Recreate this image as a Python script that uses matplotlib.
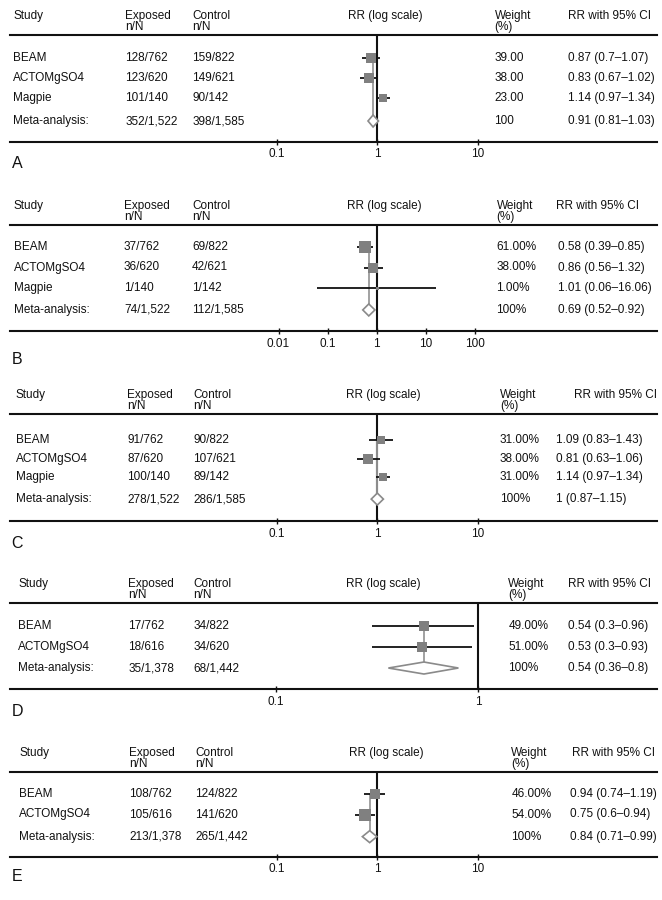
import numpy as np
import matplotlib
matplotlib.use("Agg")
import matplotlib.pyplot as plt
from matplotlib.transforms import blended_transform_factory
from matplotlib.patches import Polygon
from matplotlib.ticker import NullLocator

plt.rcParams['font.family'] = ['Liberation Sans', 'DejaVu Sans']

# ---------------- data ----------------
# Panel A
studies_A = ['BEAM', 'ACTOMgSO4', 'Magpie']
exposed_A = ['128/762', '123/620', '101/140']
control_A = ['159/822', '149/621', '90/142']
rr_A = [0.87, 0.83, 1.14]
lo_A = [0.70, 0.67, 0.97]
hi_A = [1.07, 1.02, 1.34]
weight_A = [39.00, 38.00, 23.00]
meta_A = ['352/1,522', '398/1,585']
meta_rr_A = [0.91, 0.81, 1.03]

# Panel B
studies_B = ['BEAM', 'ACTOMgSO4', 'Magpie']
exposed_B = ['37/762', '36/620', '1/140']
control_B = ['69/822', '42/621', '1/142']
rr_B = [0.58, 0.86, 1.01]
lo_B = [0.39, 0.56, 0.06]
hi_B = [0.85, 1.32, 16.06]
weight_B = [61.00, 38.00, 1.00]
meta_B = ['74/1,522', '112/1,585']
meta_rr_B = [0.69, 0.52, 0.92]

# Panel C
studies_C = ['BEAM', 'ACTOMgSO4', 'Magpie']
exposed_C = ['91/762', '87/620', '100/140']
control_C = ['90/822', '107/621', '89/142']
rr_C = [1.09, 0.81, 1.14]
lo_C = [0.83, 0.63, 0.97]
hi_C = [1.43, 1.06, 1.34]
weight_C = [31.00, 38.00, 31.00]
meta_C = ['278/1,522', '286/1,585']
meta_rr_C = [1, 0.87, 1.15]

# Panel D
studies_D = ['BEAM', 'ACTOMgSO4']
exposed_D = ['17/762', '18/616']
control_D = ['34/822', '34/620']
rr_D = [0.54, 0.53]
lo_D = [0.3, 0.3]
hi_D = [0.96, 0.93]
weight_D = [49.00, 51.00]
meta_D = ['35/1,378', '68/1,442']
meta_rr_D = [0.54, 0.36, 0.8]

# Panel E
studies_E = ['BEAM', 'ACTOMgSO4']
exposed_E = ['108/762', '105/616']
control_E = ['124/822', '141/620']
rr_E = [0.94, 0.75]
lo_E = [0.74, 0.6]
hi_E = [1.19, 0.94]
weight_E = [46.00, 54.00]
meta_E = ['213/1,378', '265/1,442']
meta_rr_E = [0.84, 0.71, 0.99]

ticks_A = [0.1, 1, 10]
ticks_B = [0.01, 0.1, 1, 10, 100]
ticks_C = [0.1, 1, 10]
ticks_D = [0.1, 1]
ticks_E = [0.1, 1, 10]

panels = [
    ('A', studies_A, exposed_A, control_A, rr_A, lo_A, hi_A, weight_A, meta_A, meta_rr_A, ticks_A, ''),
    ('B', studies_B, exposed_B, control_B, rr_B, lo_B, hi_B, weight_B, meta_B, meta_rr_B, ticks_B, '%'),
    ('C', studies_C, exposed_C, control_C, rr_C, lo_C, hi_C, weight_C, meta_C, meta_rr_C, ticks_C, '%'),
    ('D', studies_D, exposed_D, control_D, rr_D, lo_D, hi_D, weight_D, meta_D, meta_rr_D, ticks_D, '%'),
    ('E', studies_E, exposed_E, control_E, rr_E, lo_E, hi_E, weight_E, meta_E, meta_rr_E, ticks_E, '%'),
]

# ---------------- layout (pixels) ----------------
W, H = 662, 900
layout = {
    'A': dict(top=35, bot=141.7, first=58, pitch=20, gap=0.15, x1=377.2, dec=100.5,
              cols=(13, 125.5, 192.5, 385, 494.5, 568.5, 568.5), lab=163),
    'B': dict(top=225, bot=331, first=247, pitch=20.5, gap=0.07, x1=376.7, dec=49.1,
              cols=(14, 124, 192, 384, 496.5, 556, 558), lab=360),
    'C': dict(top=414.3, bot=521, first=440, pitch=18.7, gap=0.16, x1=377.3, dec=100.5,
              cols=(16, 127, 193, 383.5, 500, 574, 556), lab=543),
    'D': dict(top=603.3, bot=689, first=626, pitch=20.7, gap=0.03, x1=478, dec=202,
              cols=(18.3, 128.3, 193.3, 383.5, 508.3, 568.3, 568.3), lab=711.7),
    'E': dict(top=771.7, bot=856.7, first=794, pitch=20.5, gap=0.08, x1=377.3, dec=100.5,
              cols=(19, 129, 195, 386, 511.4, 572, 570), lab=876.7),
}
XL, XR = 10, 657
FS = 8.5
SQ_COLOR = '#808080'
DIA_EDGE = '#8a8a8a'
CONN = '#9a9a9a'

fig = plt.figure(figsize=(W / 100, H / 100), dpi=100)


def fx(px):
    return px / W


def fy(px):
    return 1 - px / H


def fmt_ci(v):
    return f"{v[0]:g} ({v[1]:g}\u2013{v[2]:g})"


for (name, studies, exposed, control, rr, lo, hi, wts, meta, meta_rr, ticks, pct) in panels:
    L = layout[name]
    ax = fig.add_axes([fx(XL), fy(L['bot']), fx(XR) - fx(XL), (L['bot'] - L['top']) / H])
    ax.set_xscale('log')
    ax.set_xlim(10 ** ((XL - L['x1']) / L['dec']), 10 ** ((XR - L['x1']) / L['dec']))
    ytop = (L['top'] - L['first']) / L['pitch']
    ybot = (L['bot'] - L['first']) / L['pitch']
    ax.set_ylim(ybot, ytop)
    ax.set_facecolor('none')
    for s in ['left', 'right']:
        ax.spines[s].set_visible(False)
    for s in ['top', 'bottom']:
        ax.spines[s].set_linewidth(1.5)
        ax.spines[s].set_color('#111111')
    ax.set_yticks([])
    ax.set_xticks(ticks)
    ax.set_xticklabels([f"{t:g}" for t in ticks])
    ax.xaxis.set_minor_locator(NullLocator())
    ax.tick_params(axis='x', direction='inout', length=4.5, width=1.0, pad=2.5,
                   labelsize=FS, colors='#111111')

    ax.axvline(1, color='#111111', lw=1.5, zorder=1)

    n = len(studies)
    ypos = np.arange(n)
    ymeta = n + L['gap']
    hh = 6.0 / L['pitch']

    # connecting line at pooled estimate
    ax.plot([meta_rr[0], meta_rr[0]], [0, ymeta - hh], color=CONN, lw=1.3, zorder=2,
            solid_capstyle='butt')
    # CIs and squares
    ax.hlines(ypos, lo, hi, color='#111111', lw=1.3, zorder=3)
    for i in range(n):
        side_px = max(1.5 * np.sqrt(wts[i]), 3.0)
        ax.plot(rr[i], ypos[i], marker='s', ms=side_px * 0.72, color=SQ_COLOR,
                mew=0, zorder=5)
    # diamond
    dia = Polygon([(meta_rr[1], ymeta), (meta_rr[0], ymeta - hh), (meta_rr[2], ymeta),
                   (meta_rr[0], ymeta + hh)], closed=True, facecolor='white',
                  edgecolor=DIA_EDGE, lw=1.2, zorder=6)
    ax.add_patch(dia)

    # ---- text ----
    c = L['cols']
    tr = blended_transform_factory(fig.transFigure, ax.transData)
    h1 = fy(L['top'] - 19)
    h2 = fy(L['top'] - 8)
    kw = dict(fontsize=FS, color='#111111', va='center')
    fig.text(fx(c[0]), h1, 'Study', ha='left', **kw)
    fig.text(fx(c[1]), h1, 'Exposed', ha='left', **kw)
    fig.text(fx(c[1]), h2, 'n/N', ha='left', **kw)
    fig.text(fx(c[2]), h1, 'Control', ha='left', **kw)
    fig.text(fx(c[2]), h2, 'n/N', ha='left', **kw)
    fig.text(fx(c[3]), h1, 'RR (log scale)', ha='center', **kw)
    fig.text(fx(c[4]), h1, 'Weight', ha='left', **kw)
    fig.text(fx(c[4]), h2, '(%)', ha='left', **kw)
    fig.text(fx(c[5]), h1, 'RR with 95% CI', ha='left', **kw)

    rows_name = list(studies) + ['Meta-analysis:']
    rows_exp = list(exposed) + [meta[0]]
    rows_ctl = list(control) + [meta[1]]
    rows_w = [f"{w:.2f}{pct}" for w in wts] + ['100' + pct]
    rows_ci = [fmt_ci((rr[i], lo[i], hi[i])) for i in range(n)] + [fmt_ci(meta_rr)]
    rows_y = list(ypos) + [ymeta]
    for j in range(n + 1):
        y = rows_y[j]
        ax.text(fx(c[0]), y, rows_name[j], transform=tr, ha='left', **kw)
        ax.text(fx(c[1]), y, rows_exp[j], transform=tr, ha='left', **kw)
        ax.text(fx(c[2]), y, rows_ctl[j], transform=tr, ha='left', **kw)
        ax.text(fx(c[4]), y, rows_w[j], transform=tr, ha='left', **kw)
        ax.text(fx(c[6]), y, rows_ci[j], transform=tr, ha='left', **kw)

    fig.text(fx(11.5), fy(L['lab']), name, fontsize=11.5, color='#111111',
             ha='left', va='center')

fig.savefig('out.png', dpi=100, facecolor='white')
